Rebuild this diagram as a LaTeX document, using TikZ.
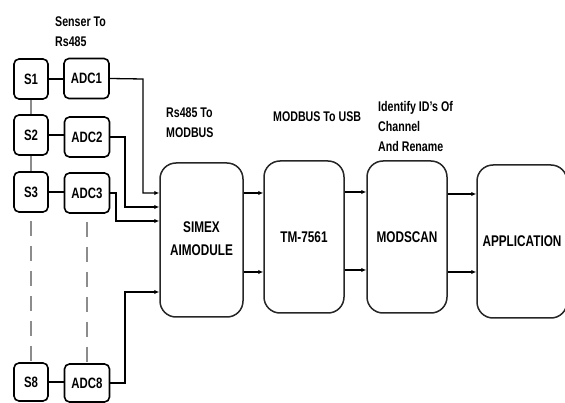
\documentclass[tikz,border=0pt]{standalone}
\usepackage{fontspec}
\setmainfont{Liberation Sans}[FakeStretch=0.76]
\usetikzlibrary{arrows.meta}
\begin{document}
\begin{tikzpicture}[x=1pt,y=-1pt,
  sbox/.style={draw=black,line width=1.6pt,rounded corners=5pt,minimum width=34pt,minimum height=40pt,inner sep=0pt,font=\fontsize{15}{18}\selectfont\bfseries},
  abox/.style={sbox,minimum width=45pt},
  bigbox/.style={draw=black!85,line width=1.5pt,rounded corners=16pt,inner sep=0pt,minimum width=81pt,minimum height=153pt,align=center,font=\fontsize{15.5}{22}\selectfont\bfseries},
  lbl/.style={anchor=north west,align=left,inner sep=0pt,font=\fontsize{14}{20}\selectfont\bfseries},
  conn/.style={draw=black,line width=1.3pt},
  arr/.style={conn,-{Latex[length=5pt,width=4.5pt]}},
  grayline/.style={draw=black!45,line width=1.3pt},
  dashline/.style={grayline,dash pattern=on 15pt off 10pt}
]
\useasboundingbox (0,0) rectangle (565,403);
% sensors and ADCs
\node[sbox] (s1) at (31,79) {S1};
\node[sbox] (s2) at (31,135) {S2};
\node[sbox] (s3) at (31,192) {S3};
\node[sbox,minimum height=38pt] (s8) at (31,382) {S8};
\node[abox] (adc1) at (86.5,78.5) {ADC1};
\node[abox] (adc2) at (87,137) {ADC2};
\node[abox] (adc3) at (87,193) {ADC3};
\node[abox,minimum height=38pt] (adc8) at (87,383) {ADC8};
% big boxes
\node[bigbox,minimum width=83pt,minimum height=154pt] (ai) at (201.5,240) {\raisebox{-4pt}{\begin{tabular}{@{}c@{}}SIMEX\\[1pt]AIMODULE\end{tabular}}};
\node[bigbox,minimum width=80pt,minimum height=152pt] (tm) at (304,237) {\raisebox{-3pt}{TM-7561}};
\node[bigbox,minimum width=80pt,minimum height=152pt] (ms) at (407,237) {\raisebox{-3pt}{MODSCAN}};
\node[bigbox,minimum width=90pt,minimum height=153pt] (app) at (522,241.5) {\raisebox{-2pt}{APPLICATION}};
% labels
\node[lbl] (l1) at (55,17) {Senser To\\Rs485};
\node[lbl] (l2) at (166,108) {Rs485 To\\MODBUS};
\node[lbl] (l3) at (273,112) {MODBUS To USB};
\node[lbl] (l4) at (378,101) {Identify ID's Of\\Channel\\And Rename};
% sensor-adc links
\draw[conn] (s1) -- (s1 -| adc1.west);
\draw[conn] (s2) -- (s2 -| adc2.west);
\draw[conn] (s3) -- (s3 -| adc3.west);
\draw[conn] (s8) -- (s8 -| adc8.west);
\draw[grayline] (s1) -- (s2);
\draw[grayline] (s2) -- (s3);
\draw[dashline] (s3.south) ++(0,8) -- (s8.north);
\draw[dashline] (adc3.south) ++(0,8) -- (adc8.north);
% adc to AI module
\draw[arr] (adc1.east) -- (143,79) -- (143,193) -- (ai.west |- {(0,193)});
\draw[arr] (adc2.east) -- (125,137) -- (125,207) -- (ai.west |- {(0,207)});
\draw[arr] (adc3.east) -- (116,193) -- (116,221) -- (ai.west |- {(0,221)});
\draw[arr] (adc8.east) -- (125,383) -- (125,292) -- (ai.west |- {(0,292)});
% chain
\draw[arr] (ai.east |- {(0,193)}) -- (tm.west |- {(0,193)});
\draw[arr] (ai.east |- {(0,272)}) -- (tm.west |- {(0,272)});
\draw[arr] (tm.east |- {(0,192)}) -- (ms.west |- {(0,192)});
\draw[arr] (tm.east |- {(0,270)}) -- (ms.west |- {(0,270)});
\draw[arr] (ms.east |- {(0,194)}) -- (app.west |- {(0,194)});
\draw[arr] (ms.east |- {(0,272)}) -- (app.west |- {(0,272)});
\end{tikzpicture}
\end{document}
